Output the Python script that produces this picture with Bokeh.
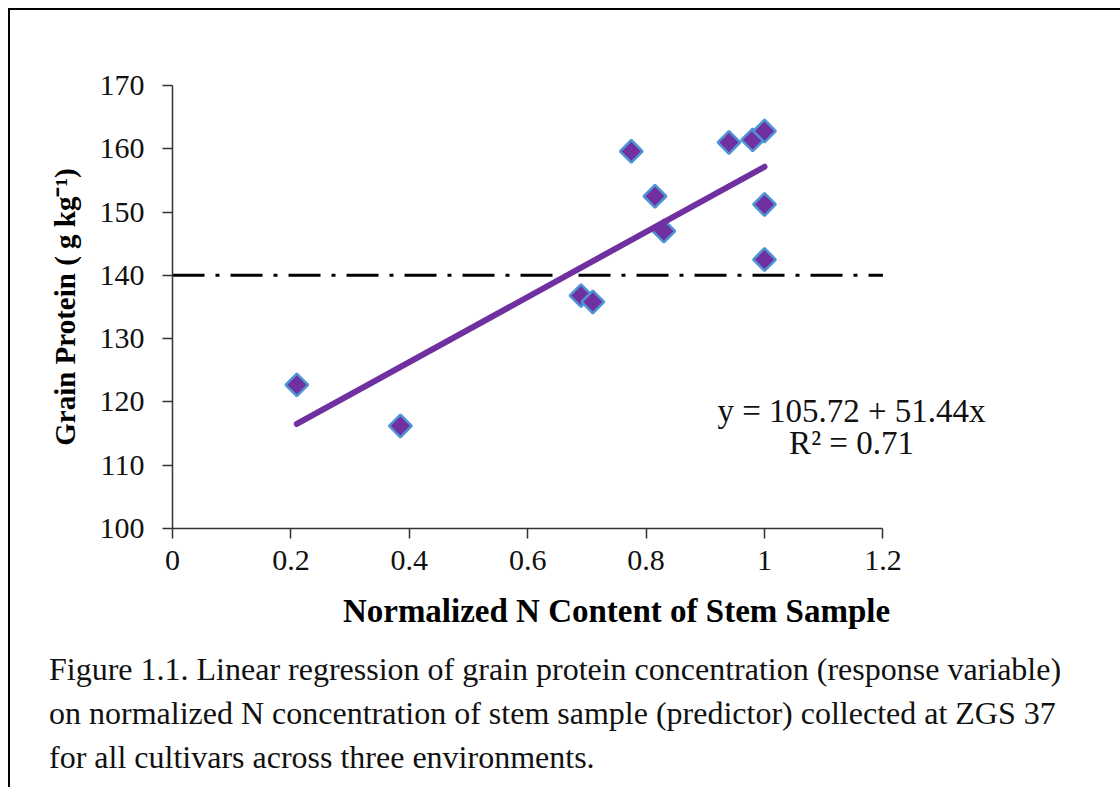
from bokeh.plotting import figure
from bokeh.models import Range1d, Label, Div
from bokeh.layouts import column
from bokeh.embed import file_html
from bokeh.resources import INLINE

# ---- data ----
stem_n = [0.21, 0.385, 0.69, 0.71, 0.775, 0.815, 0.83, 0.94, 0.98, 1.0, 1.0, 1.0]
protein = [122.7, 116.2, 136.8, 135.8, 159.6, 152.5, 147.0, 161.0, 161.4, 162.8, 151.2, 142.5]
intercept = 105.72
slope = 51.44
r_squared = 0.71
threshold = 140
x_ticks = [0, 0.2, 0.4, 0.6, 0.8, 1.0, 1.2]
x_tick_labels = ["0", "0.2", "0.4", "0.6", "0.8", "1", "1.2"]
y_ticks = [100, 110, 120, 130, 140, 150, 160, 170]
caption_lines = [
    "Figure 1.1. Linear regression of grain protein concentration (response variable)",
    "on normalized N concentration of stem sample (predictor) collected at ZGS 37",
    "for all cultivars across three environments.",
]

FONT = "Liberation Serif"
PURPLE = "#7030A0"

p = figure(width=1102, height=630,
           x_range=Range1d(0, 1.5), y_range=Range1d(100, 170),
           output_backend="svg", toolbar_location=None,
           min_border_left=162, min_border_right=52,
           min_border_top=75, min_border_bottom=112)
p.grid.visible = False
p.outline_line_color = None

for ax in (p.xaxis[0], p.yaxis[0]):
    ax.axis_line_color = "#333333"
    ax.axis_line_width = 1.5
    ax.major_tick_line_color = "#333333"
    ax.major_tick_line_width = 1.5
    ax.major_tick_in = 0
    ax.major_tick_out = 10
    ax.minor_tick_line_color = None
    ax.major_label_text_font = FONT
    ax.major_label_text_font_size = "30px"
    ax.major_label_text_color = "#111111"
    ax.axis_label_text_font = FONT
    ax.axis_label_text_font_style = "bold"
    ax.axis_label_text_color = "#000000"

p.xaxis.bounds = (x_ticks[0], x_ticks[-1])
p.xaxis.ticker = x_ticks
p.xaxis.major_label_overrides = {t: l for t, l in zip(x_ticks, x_tick_labels)}
p.xaxis.major_label_standoff = 12
p.xaxis.axis_label = "Normalized N Content of Stem Sample"
p.xaxis.axis_label_text_font_size = "33px"
p.xaxis.axis_label_standoff = 20

p.yaxis.ticker = y_ticks
p.yaxis.major_label_standoff = 18
p.yaxis.axis_label = "Grain Protein ( g kg\u207b\u00b9)"
p.yaxis.axis_label_text_font_size = "29px"
p.yaxis.axis_label_standoff = 16

# threshold line
p.line([x_ticks[0], x_ticks[-1]], [threshold, threshold], line_color="black",
       line_width=3, line_dash="32 11 4 11")

# points
p.scatter(stem_n, protein, marker="square", size=16, angle=0.785398,
          fill_color=PURPLE, line_color="#4F94D4", line_width=2.5)

# regression line
xs = [min(stem_n), max(stem_n)]
ys = [intercept + slope * x for x in xs]
p.line(xs, ys, line_color=PURPLE, line_width=6, line_cap="round")

# equation
p.add_layout(Label(x=679, y=118, x_units="screen", y_units="screen",
                   text=f"y = {intercept} + {slope}x", text_align="center",
                   text_baseline="middle", text_font=FONT, text_font_size="33px",
                   text_color="#111111"))
p.add_layout(Label(x=679, y=86, x_units="screen", y_units="screen",
                   text=f"R\u00b2 = {r_squared}", text_align="center",
                   text_baseline="middle", text_font=FONT, text_font_size="33px",
                   text_color="#111111"))

caption = Div(text="<br>".join(caption_lines), width=1102, height=145,
              styles={"font-family": FONT, "font-size": "32px", "line-height": "44px",
                      "color": "#111111", "padding-left": "34px", "padding-top": "2px",
                      "white-space": "nowrap"})

layout = column(p, caption, spacing=0,
                styles={"border-top": "2px solid #000", "border-left": "2px solid #000",
                        "margin-left": "8px", "margin-top": "8px"})

open("out.html", "w").write(file_html(layout, INLINE))
